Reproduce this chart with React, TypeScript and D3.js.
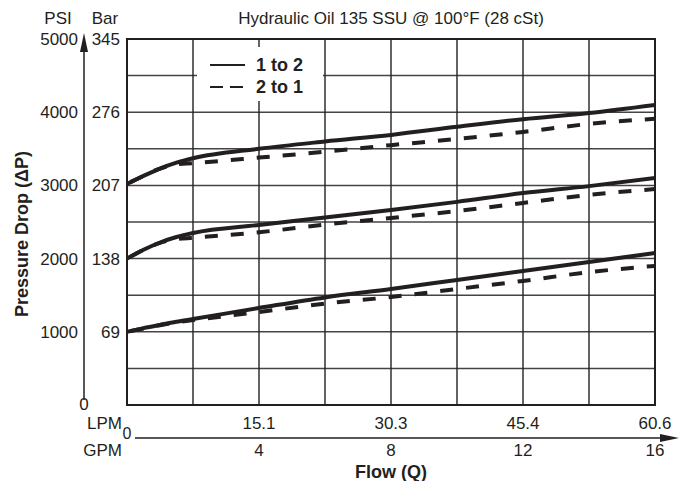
import React from "react";
import * as d3 from "d3";

const gpmTicks = [4, 8, 12, 16];
const lpmLabels = ["15.1", "30.3", "45.4", "60.6"];
const psiTicks = [1000, 2000, 3000, 4000, 5000];
const barLabels = ["69", "138", "207", "276", "345"];

const flowGpm = [0, 0.5, 1, 1.5, 2, 4, 6, 8, 10, 12, 14, 16];
const top12 = [3020, 3130, 3230, 3310, 3370, 3500, 3600, 3690, 3800, 3905, 3990, 4100];
const top21 = [3020, 3130, 3230, 3290, 3305, 3380, 3460, 3550, 3635, 3730, 3840, 3910];
const mid12 = [2000, 2120, 2220, 2295, 2350, 2460, 2560, 2665, 2775, 2895, 2990, 3100];
const mid21 = [2000, 2120, 2215, 2265, 2285, 2360, 2465, 2555, 2650, 2760, 2870, 2950];
const low12 = [1000, 1050, 1095, 1138, 1175, 1325, 1470, 1585, 1708, 1830, 1953, 2077];
const low21 = [1000, 1045, 1090, 1130, 1160, 1270, 1385, 1475, 1585, 1695, 1815, 1900];

const solidSeries = [top12, mid12, low12];
const dashedSeries = [top21, mid21, low21];

const W = 685, H = 481;
const L = 127, R = 655, T = 39, B = 405;
const FONT = "'Liberation Sans', Arial, Helvetica, sans-serif";
const INK = "#231f20";

export default function App() {
  const x = d3.scaleLinear().domain([0, 16]).range([L, R]);
  const y = d3.scaleLinear().domain([0, 5000]).range([B, T]);
  const line = d3
    .line<number>()
    .x((_, i) => x(flowGpm[i]))
    .y((d) => y(d))
    .curve(d3.curveMonotoneX);

  const vGrid = d3.range(2, 16, 2);
  const hGrid = d3.range(500, 5000, 500);

  return (
    <svg width={W} height={H} style={{ position: "absolute", left: 0, top: 0, background: "#fff" }} fontFamily={FONT}>
      <defs>
        <clipPath id="plot">
          <rect x={L} y={T} width={R - L} height={B - T} />
        </clipPath>
      </defs>
      <rect x={0} y={0} width={W} height={H} fill="#fff" />
      {hGrid.map((v) => (
        <line key={"h" + v} x1={L} x2={R} y1={y(v)} y2={y(v)} stroke="#444" strokeWidth={1.5} />
      ))}
      {vGrid.map((v) => (
        <line key={"v" + v} x1={x(v)} x2={x(v)} y1={T} y2={B} stroke="#222" strokeWidth={1.4} />
      ))}
      <rect x={197} y={47} width={126} height={54} fill="#fff" />
      <line x1={210} x2={245} y1={65} y2={65} stroke={INK} strokeWidth={2} />
      <line x1={210} x2={245} y1={87} y2={87} stroke={INK} strokeWidth={2} strokeDasharray="13 7" />
      <text x={256} y={71} fontSize={18} fontWeight="bold" fill={INK}>1 to 2</text>
      <text x={256} y={93} fontSize={18} fontWeight="bold" fill={INK}>2 to 1</text>
      <g clipPath="url(#plot)">
        {dashedSeries.map((s, i) => (
          <path key={"d" + i} d={line(s) || ""} fill="none" stroke={INK} strokeWidth={4} strokeDasharray="13 13" strokeDashoffset={-30} />
        ))}
        {solidSeries.map((s, i) => (
          <path key={"s" + i} d={line(s) || ""} fill="none" stroke={INK} strokeWidth={4} />
        ))}
      </g>
      <rect x={L} y={T} width={R - L} height={B - T} fill="none" stroke={INK} strokeWidth={2} />
      <text x={391} y={24} fontSize={17} textAnchor="middle" fill={INK}>Hydraulic Oil 135 SSU @ 100°F (28 cSt)</text>
      <text x={58} y={24} fontSize={17} textAnchor="middle" fill={INK}>PSI</text>
      <text x={105} y={24} fontSize={17} textAnchor="middle" fill={INK}>Bar</text>
      <line x1={84} x2={84} y1={400} y2={48} stroke={INK} strokeWidth={1.5} />
      <path d="M84,33 L80,52 L88,52 Z" fill={INK} />
      {psiTicks.map((v, i) => (
        <g key={"yt" + v}>
          <text x={78} y={y(v) + 6} fontSize={17} textAnchor="end" fill={INK}>{v}</text>
          <text x={120} y={y(v) + 6} fontSize={17} textAnchor="end" fill={INK}>{barLabels[i]}</text>
        </g>
      ))}
      <text x={84} y={410} fontSize={17} textAnchor="middle" fill={INK}>0</text>
      <text transform={`translate(28,234) rotate(-90)`} fontSize={18} fontWeight="bold" textAnchor="middle" fill={INK}>Pressure Drop (ΔP)</text>
      <text x={122} y={429} fontSize={17} textAnchor="end" fill={INK}>LPM</text>
      <text x={127} y={439} fontSize={16} textAnchor="middle" fill={INK}>0</text>
      <text x={122} y={456} fontSize={17} textAnchor="end" fill={INK}>GPM</text>
      <line x1={135} x2={665} y1={438} y2={438} stroke={INK} strokeWidth={1.5} />
      <path d="M679,438 L660,434 L660,442 Z" fill={INK} />
      {gpmTicks.map((v, i) => (
        <g key={"xt" + v}>
          <text x={x(v)} y={429} fontSize={17} textAnchor="middle" fill={INK}>{lpmLabels[i]}</text>
          <text x={x(v)} y={456} fontSize={17} textAnchor="middle" fill={INK}>{v}</text>
        </g>
      ))}
      <text x={391} y={478} fontSize={18} fontWeight="bold" textAnchor="middle" fill={INK}>Flow (Q)</text>
    </svg>
  );
}
